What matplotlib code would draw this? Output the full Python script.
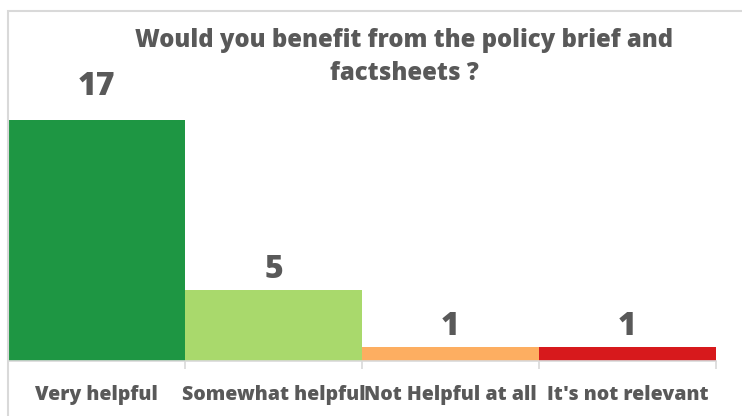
import matplotlib
matplotlib.use("Agg")
import matplotlib.pyplot as plt
from matplotlib.patches import Rectangle

categories = ["Very helpful", "Somewhat helpful", "Not Helpful at all", "It's not relevant"]
counts = [17, 5, 1, 1]
colors = ["#1e9643", "#a9d96c", "#fdae61", "#d7191c"]
title = "Would you benefit from the policy brief and\nfactsheets ?"

W, H = 742, 416
plt.rcParams["font.family"] = ["Open Sans", "DejaVu Sans"]
text_color = "#595959"
weight = 800

fig = plt.figure(figsize=(W / 100, H / 100), dpi=100)

# outer chart frame (cut off on the right and bottom)
fig.patches.append(Rectangle((8 / W, -0.1), 1.2, (H - 11) / H + 0.1,
                             transform=fig.transFigure, fill=False,
                             edgecolor="#d9d9d9", linewidth=1.5))

ax = fig.add_axes([8 / W, (H - 361) / H, (716 - 8) / W, 283.6 / H])
x = list(range(len(categories)))
ax.bar(x, counts, width=1.0, color=colors)
ax.set_xlim(-0.5, len(categories) - 0.5)
ax.set_ylim(0, 20)

for xi, c in zip(x, counts):
    # the tallest label sits a bit higher above its bar
    off = 23.5 if c == max(counts) else 14.5
    ax.annotate(str(c), (xi, c), xytext=(0, off), textcoords="offset points",
                ha="center", va="center", fontsize=23, fontweight=weight,
                color=text_color)

for s in ["top", "right", "left"]:
    ax.spines[s].set_visible(False)
ax.spines["bottom"].set_color("#d9d9d9")
ax.spines["bottom"].set_linewidth(1.2)
ax.set_yticks([])
ax.set_xticks([i - 0.5 for i in range(len(categories) + 1)])
ax.set_xticklabels([])
ax.tick_params(axis="x", which="major", length=6, color="#d9d9d9", width=1.2)
ax.set_xticks(x, minor=True)
ax.set_xticklabels(categories, minor=True, fontsize=14, fontweight=weight, color=text_color)
ax.tick_params(axis="x", which="minor", length=0, pad=17)

fig.text(404 / W, 1 - 57 / H, title, ha="center", va="center", fontsize=17.2,
         fontweight=weight, color=text_color, linespacing=1.45)

fig.savefig("out.png", dpi=100)
